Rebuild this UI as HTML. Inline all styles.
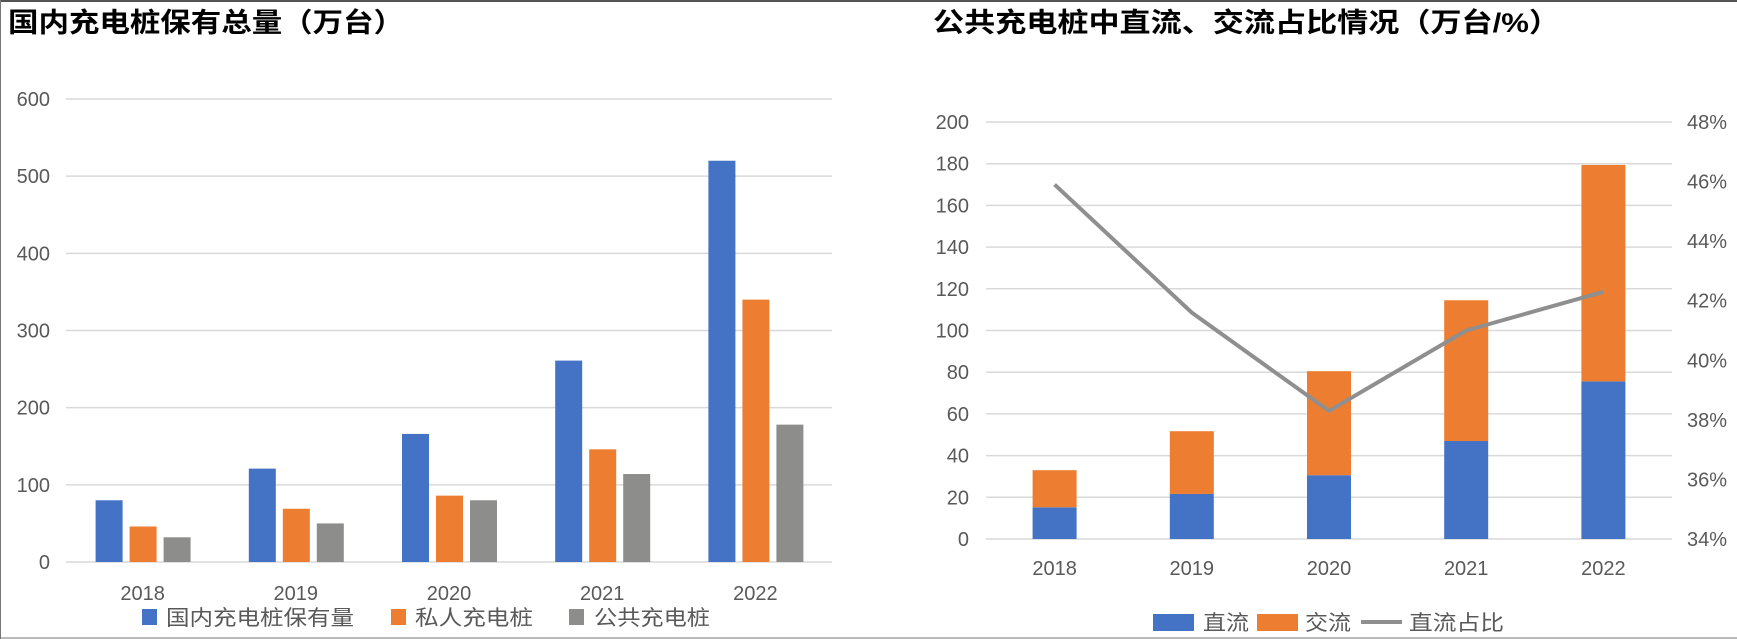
<!DOCTYPE html>
<html><head><meta charset="utf-8"><style>
html,body{margin:0;padding:0;background:#fff;}
svg{display:block;font-family:"Liberation Sans","Noto Sans CJK SC",sans-serif;}
</style></head><body>
<svg id="s" width="1737" height="639" viewBox="0 0 1737 639" xmlns="http://www.w3.org/2000/svg">
<rect x="0" y="0" width="1737" height="2" fill="#555"/>
<line x1="0.5" y1="0" x2="0.5" y2="639" stroke="#777"/>
<line x1="0" y1="638" x2="1737" y2="638" stroke="#777"/>
<text x="8" y="32" font-size="27" font-weight="bold" fill="#000" textLength="396" lengthAdjust="spacingAndGlyphs">国内充电桩保有总量（万台）</text>
<text x="933" y="32" font-size="27" font-weight="bold" fill="#000" textLength="627" lengthAdjust="spacingAndGlyphs">公共充电桩中直流、交流占比情况（万台/%）</text>
<g id="L"></g><g id="R"></g>
</svg>
<script>
const NS="http://www.w3.org/2000/svg";
const years=["2018","2019","2020","2021","2022"];
const totalPiles=[80,121,166,261,520];
const privatePiles=[46,69,86,146,340];
const publicPiles=[32,50,80,114,178];
const leftTicks=[0,100,200,300,400,500,600];
const dcPiles=[15.2,21.6,30.6,47,75.6];
const acPiles=[17.8,30.1,49.9,67.5,103.8];
const dcShare=[45.9,41.6,38.3,41.0,42.3];
const rightTicks=[0,20,40,60,80,100,120,140,160,180,200];
const shareTicks=[34,36,38,40,42,44,46,48];
const C={blue:"#4472c4",orange:"#ed7d31",gray:"#8d8e8b",grid:"#d9d9d9",tick:"#595959"};
function mk(parent,tag,attrs,txt){const e=document.createElementNS(NS,tag);for(const k in attrs)e.setAttribute(k,attrs[k]);if(txt!==undefined)e.textContent=txt;parent.appendChild(e);return e;}
// left chart
const L=document.getElementById('L');
const ly=v=>562-v*(463/600);
const lx=i=>66+(i+0.5)*(766/5);
leftTicks.forEach(t=>{
 const g=mk(L,'line',{x1:66,x2:832,y1:ly(t),y2:ly(t),stroke:C.grid,'stroke-width':1.5});
 
 
 const tx=mk(L,'text',{x:50,y:ly(t)+7,'font-size':20,fill:C.tick,'text-anchor':'end'},String(t));
 
 
});
const lser=[[totalPiles,C.blue,-47,'bar-total'],[privatePiles,C.orange,-13,'bar-private'],[publicPiles,C.gray,21,'bar-public']];
years.forEach((y,i)=>{
 lser.forEach(s=>{
  const r=mk(L,'rect',{x:lx(i)+s[2],y:ly(s[0][i]),width:27,height:ly(0)-ly(s[0][i]),fill:s[1]});
  
  
 });
 const t=mk(L,'text',{x:lx(i),y:600,'font-size':20,fill:C.tick,'text-anchor':'middle'},y);
 
 
});
const lleg=[[142,C.blue,166,'国内充电桩保有量',188],[391,C.orange,415,'私人充电桩',118],[569,C.gray,594,'公共充电桩',116]];
lleg.forEach(l=>{
 const b=mk(L,'rect',{x:l[0],y:609,width:15,height:16,fill:l[1]});
 
 
 const t=mk(L,'text',{x:l[2],y:625,'font-size':21,fill:C.tick,textLength:l[4],lengthAdjust:'spacingAndGlyphs'},l[3]);
 
 
});
// right chart
const R=document.getElementById('R');
const ry=v=>539-v*(417/200);
const py=p=>539-(p-34)*(417/14);
const rx=i=>986+(i+0.5)*(686/5);
rightTicks.forEach(t=>{
 const g=mk(R,'line',{x1:986,x2:1672,y1:ry(t),y2:ry(t),stroke:C.grid,'stroke-width':1.5});
 
 
 const tx=mk(R,'text',{x:969,y:ry(t)+7,'font-size':20,fill:C.tick,'text-anchor':'end'},String(t));
 
 
});
shareTicks.forEach(t=>{
 const tx=mk(R,'text',{x:1687,y:py(t)+7,'font-size':20,fill:C.tick},t+'%');
 
 
});
years.forEach((y,i)=>{
 const b1=mk(R,'rect',{x:rx(i)-22,y:ry(dcPiles[i]),width:44,height:ry(0)-ry(dcPiles[i]),fill:C.blue});
 
 
 const tot=dcPiles[i]+acPiles[i];
 const b2=mk(R,'rect',{x:rx(i)-22,y:ry(tot),width:44,height:ry(dcPiles[i])-ry(tot),fill:C.orange});
 
 
 const t=mk(R,'text',{x:rx(i),y:575,'font-size':20,fill:C.tick,'text-anchor':'middle'},y);
 
 
});
const pts=dcShare.map((v,i)=>rx(i)+','+py(v)).join(' ');
const pl=mk(R,'polyline',{points:pts,fill:'none',stroke:'#8f8f8f','stroke-width':4,'stroke-linejoin':'round'});


[[1153,C.blue,1203,'直流'],[1257,C.orange,1305,'交流']].forEach(l=>{
 const b=mk(R,'rect',{x:l[0],y:614,width:41,height:17,fill:l[1]});
 
 
 const t=mk(R,'text',{x:l[2],y:630,'font-size':21,fill:C.tick,textLength:46,lengthAdjust:'spacingAndGlyphs'},l[3]);
 
 
});
const ll=mk(R,'line',{x1:1361,x2:1402,y1:622,y2:622,stroke:'#8f8f8f','stroke-width':4});


const lt=mk(R,'text',{x:1409,y:630,'font-size':21,fill:C.tick,textLength:95,lengthAdjust:'spacingAndGlyphs'},'直流占比');


</script>
</body></html>
